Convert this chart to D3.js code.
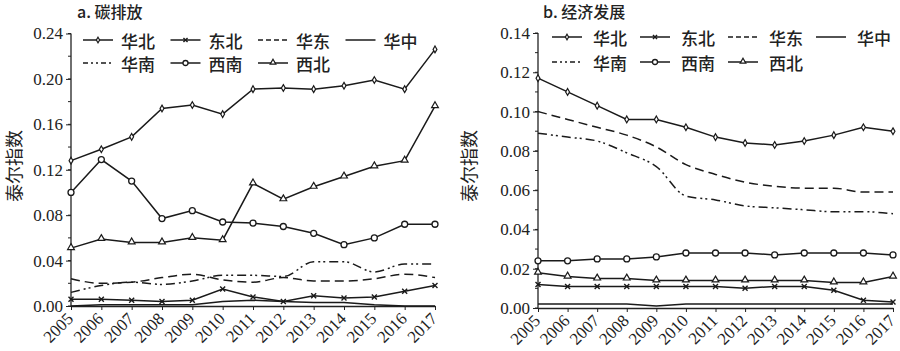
<!DOCTYPE html>
<html lang="zh">
<head>
<meta charset="utf-8">
<title>泰尔指数 | 碳排放与经济发展</title>
<script src="https://cdn.jsdelivr.net/npm/d3@7"></script>
<style>
  body { margin: 0; background: #fff; }
  .num { font-family: "Liberation Serif", "DejaVu Serif", serif; fill: #222; }
  .cjk { font-family: "Noto Sans CJK SC", sans-serif; fill: #222; }
</style>
</head>
<body>
<div id="bod"></div>
<script>
const years = [2005, 2006, 2007, 2008, 2009, 2010, 2011, 2012, 2013, 2014, 2015, 2016, 2017]
const regions = ["华北", "东北", "华东", "华中", "华南", "西南", "西北"]

// a. 碳排放
const carbonHuabei   = [0.128, 0.138, 0.149, 0.174, 0.177, 0.169, 0.191, 0.192, 0.191, 0.194, 0.199, 0.191, 0.226]
const carbonDongbei  = [0.006, 0.006, 0.005, 0.004, 0.005, 0.015, 0.008, 0.004, 0.009, 0.007, 0.008, 0.013, 0.018]
const carbonHuadong  = [0.024, 0.020, 0.021, 0.025, 0.028, 0.023, 0.021, 0.025, 0.022, 0.022, 0.024, 0.028, 0.025]
const carbonHuazhong = [0.000, 0.001, 0.001, 0.001, 0.001, 0.004, 0.005, 0.004, 0.003, 0.003, 0.001, 0.000, 0.000]
const carbonHuanan   = [0.012, 0.018, 0.021, 0.019, 0.022, 0.027, 0.027, 0.026, 0.039, 0.039, 0.030, 0.037, 0.037]
const carbonXinan    = [0.100, 0.129, 0.110, 0.077, 0.084, 0.074, 0.073, 0.070, 0.064, 0.054, 0.060, 0.072, 0.072]
const carbonXibei    = [0.051, 0.059, 0.056, 0.056, 0.060, 0.058, 0.108, 0.094, 0.105, 0.114, 0.123, 0.128, 0.176]

// b. 经济发展
const econHuabei   = [0.117, 0.110, 0.103, 0.096, 0.096, 0.092, 0.087, 0.084, 0.083, 0.085, 0.088, 0.092, 0.090]
const econDongbei  = [0.012, 0.011, 0.011, 0.011, 0.011, 0.011, 0.011, 0.010, 0.011, 0.011, 0.009, 0.004, 0.003]
const econHuadong  = [0.100, 0.096, 0.092, 0.088, 0.082, 0.073, 0.068, 0.064, 0.062, 0.061, 0.061, 0.059, 0.059]
const econHuazhong = [0.002, 0.002, 0.002, 0.002, 0.001, 0.002, 0.002, 0.002, 0.002, 0.002, 0.002, 0.002, 0.002]
const econHuanan   = [0.089, 0.087, 0.085, 0.079, 0.072, 0.057, 0.055, 0.052, 0.051, 0.050, 0.049, 0.049, 0.048]
const econXinan    = [0.024, 0.024, 0.025, 0.025, 0.026, 0.028, 0.028, 0.028, 0.027, 0.028, 0.028, 0.028, 0.027]
const econXibei    = [0.018, 0.016, 0.015, 0.015, 0.014, 0.014, 0.014, 0.014, 0.014, 0.014, 0.013, 0.013, 0.016]

const carbonTicks = [0, 0.04, 0.08, 0.12, 0.16, 0.20, 0.24]
const econTicks = [0, 0.02, 0.04, 0.06, 0.08, 0.10, 0.12, 0.14]

// line style and marker per region, same order as regions
const dashes = [null, null, "9,5", null, "9,4,2,3,2,4", null, null]
const markers = ["diamond", "cross", null, null, null, "circle", "triangle"]

const W = 900, H = 351
const svg = d3.select("#bod").append("svg").attr("width", W).attr("height", H)

function drawMarker(g, type, x, y, k) {
  const s = k || 1
  if (type == "diamond") {
    g.append("path").attr("d", d3.symbol(d3.symbolDiamond, 13 * s)())
      .attr("transform", `translate(${x},${y})`)
      .attr("fill", "#fff").attr("stroke", "#1a1a1a").attr("stroke-width", 1.2)
  } else if (type == "circle") {
    g.append("circle").attr("cx", x).attr("cy", y).attr("r", 3 * Math.sqrt(s))
      .attr("fill", "#fff").attr("stroke", "#1a1a1a").attr("stroke-width", 1.3)
  } else if (type == "triangle") {
    g.append("path").attr("d", d3.symbol(d3.symbolTriangle, 20 * s)())
      .attr("transform", `translate(${x},${y - 0.5})`)
      .attr("fill", "#fff").attr("stroke", "#1a1a1a").attr("stroke-width", 1.2)
  } else if (type == "cross") {
    g.append("path").attr("d", d3.symbol(d3.symbolX, 18 * s)())
      .attr("transform", `translate(${x},${y})`)
      .attr("fill", "none").attr("stroke", "#1a1a1a").attr("stroke-width", 1.4)
  }
}

function drawPanel(opt) {
  const g = svg.append("g")
  const x = d3.scalePoint().domain(years).range(opt.xRange)
  const y = d3.scaleLinear().domain([0, opt.yMax]).range(opt.yRange)

  // minor ticks
  const minor = d3.range(0, opt.yMax + 1e-9, opt.minorStep)
  g.selectAll(".minor").data(minor).join("line")
    .attr("x1", opt.xRange[0] - 3).attr("x2", opt.xRange[0])
    .attr("y1", d => y(d)).attr("y2", d => y(d))
    .attr("stroke", "#222").attr("stroke-width", 1)

  const yAxis = g.append("g")
    .attr("transform", `translate(${opt.xRange[0]},0)`)
    .call(d3.axisLeft(y).tickValues(opt.ticks).tickFormat(d3.format(".2f")).tickSize(5).tickPadding(3))
  yAxis.select(".domain").attr("stroke", "#222").attr("stroke-width", 1.3)
    .attr("d", `M0,${opt.yRange[0]}V${opt.yRange[1]}`)
  yAxis.selectAll("text").attr("class", "num").style("font-size", "17px")
    .attr("font-family", null).attr("fill", "#222")
  yAxis.selectAll("line").attr("stroke", "#222")

  const xAxis = g.append("g")
    .attr("transform", `translate(0,${opt.yRange[0]})`)
    .call(d3.axisBottom(x).tickSize(4).tickSizeOuter(0))
  xAxis.select(".domain").attr("stroke", "#222").attr("stroke-width", 1.6)
  xAxis.selectAll("line").attr("stroke", "#222")
  xAxis.selectAll("text").attr("class", "num").style("font-size", "17px")
    .attr("font-family", null).attr("fill", "#222")
    .attr("text-anchor", "end")
    .attr("dy", null).attr("y", 0)
    .attr("transform", "translate(0,11) rotate(-45)")
    .attr("dominant-baseline", "middle")

  // series lines
  const line = d3.line().x((d, i) => x(years[i])).y(d => y(d)).curve(d3.curveMonotoneX)
  const straight = d3.line().x((d, i) => x(years[i])).y(d => y(d))
  opt.series.forEach((s, k) => {
    g.append("path").datum(s)
      .attr("d", dashes[k] ? line : straight)
      .attr("fill", "none").attr("stroke", "#1a1a1a")
      .attr("stroke-width", 1.5)
      .attr("stroke-dasharray", dashes[k])
  })
  opt.series.forEach((s, k) => {
    if (!markers[k]) return
    s.forEach((v, i) => drawMarker(g, markers[k], x(years[i]), y(v)))
  })

  // title
  g.append("text").attr("x", opt.titleX).attr("y", 18)
    .attr("class", "cjk").style("font-size", "16px").style("font-weight", 500).text(opt.title)

  // y label
  g.append("text").attr("class", "cjk").style("font-size", "18px")
    .attr("text-anchor", "middle")
    .attr("transform", `translate(${opt.yLabelX},${166}) rotate(-90)`)
    .text("泰尔指数")

  // legend
  regions.forEach((r, k) => {
    const col = k < 4 ? k : k - 4
    const row = k < 4 ? 0 : 1
    const lx = opt.legendX + col * opt.legendStep
    const ly = opt.legendY[row]
    g.append("line").attr("x1", lx).attr("x2", lx + 30).attr("y1", ly).attr("y2", ly)
      .attr("stroke", "#1a1a1a").attr("stroke-width", 1.5)
      .attr("stroke-dasharray", dashes[k] ? (k == 2 ? "5,3" : "5,3,2,3,2,3") : null)
    if (markers[k]) drawMarker(g, markers[k], lx + 15, ly, 0.7)
    g.append("text").attr("x", lx + opt.legendGap).attr("y", ly)
      .attr("dominant-baseline", "central")
      .attr("class", "cjk").style("font-size", "17px").style("font-weight", 500).text(r)
  })
}

drawPanel({
  xRange: [71, 435], yRange: [306, 33.5], yMax: 0.24, ticks: carbonTicks, minorStep: 0.02,
  series: [carbonHuabei, carbonDongbei, carbonHuadong, carbonHuazhong, carbonHuanan, carbonXinan, carbonXibei],
  title: "a. 碳排放", titleX: 77, yLabelX: 21,
  legendX: 83, legendStep: 87.5, legendY: [40, 63], legendGap: 38
})

drawPanel({
  xRange: [538, 893], yRange: [308, 33], yMax: 0.14, ticks: econTicks, minorStep: 0.01,
  series: [econHuabei, econDongbei, econHuadong, econHuazhong, econHuanan, econXinan, econXibei],
  title: "b. 经济发展", titleX: 543, yLabelX: 476,
  legendX: 552, legendStep: 88, legendY: [37, 62], legendGap: 41
})
</script>
</body>
</html>
